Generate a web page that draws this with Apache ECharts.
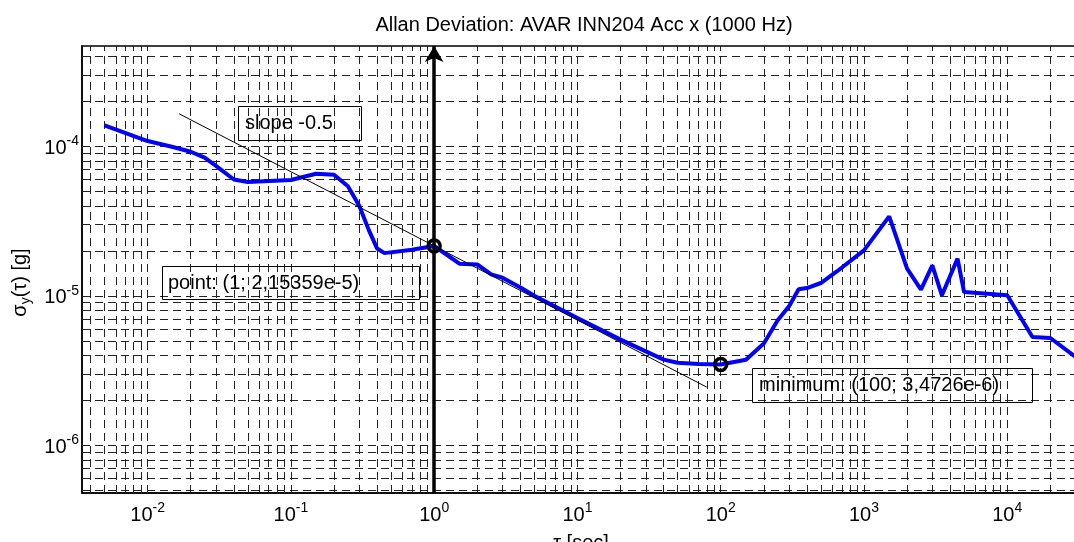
<!DOCTYPE html>
<html>
<head>
<meta charset="utf-8">
<title>Allan Deviation</title>
<style>
  html, body { margin: 0; padding: 0; background: #fff; }
  #main { width: 1074px; height: 542px; }
</style>
</head>
<body>
<div id="main"></div>
<script src="https://cdn.jsdelivr.net/npm/echarts@6/dist/echarts.min.js"></script>
<script>
// tau [sec] and allan deviation [g]
var tau = [0.005, 0.01, 0.015, 0.02, 0.025, 0.03, 0.04, 0.05, 0.1, 0.15, 0.2, 0.25, 0.3, 0.35, 0.4, 0.45, 0.7,
           1, 1.5, 2, 2.5, 3, 4, 5, 10, 20, 30, 40, 50, 70, 100,
           150, 200, 250, 300, 350, 400, 500, 650, 1000, 1500, 2000, 2500, 3000, 3500, 4500, 5000,
           10000, 15000, 20000, 30000];
var adev = [1.38e-4, 1.085e-4, 9.9e-5, 9.2e-5, 8.4e-5, 7.4e-5, 6.0e-5, 5.77e-5, 5.95e-5, 6.55e-5, 6.45e-5, 5.4e-5, 4.0e-5, 2.75e-5, 2.07e-5, 1.93e-5, 2.03e-5,
            2.15359e-5, 1.64e-5, 1.62e-5, 1.39e-5, 1.32e-5, 1.135e-5, 1.0e-5, 7.1e-6, 5.09e-6, 4.25e-6, 3.74e-6, 3.57e-6, 3.5e-6, 3.4726e-6,
            3.74e-6, 4.79e-6, 6.86e-6, 8.51e-6, 1.105e-5, 1.127e-5, 1.218e-5, 1.46e-5, 2.015e-5, 3.4e-5, 1.52e-5, 1.1e-5, 1.6e-5, 1.008e-5, 1.773e-5, 1.06e-5,
            1.008e-5, 5.3e-6, 5.22e-6, 3.9e-6];

// slope -0.5 reference line (end points)
var slopeTau = [0.0166, 80];
var slopeDev = [1.65e-4, 2.45e-6];

// marked points: point at tau=1 and the minimum
var markTau = [1, 100];
var markDev = [2.15359e-5, 3.4726e-6];

// log grid: decades and mantissas
var xDecades = [-3, -2, -1, 0, 1, 2, 3, 4];
var yDecades = [-7, -6, -5, -4];
var mantissas = [1, 2, 3, 4, 5, 6, 7, 8, 9];

var xMin = 0.0034834, xMax = 32211;
var yMin = 4.797e-7, yMax = 4.688e-4;

var FONT = '"Liberation Sans", Arial, sans-serif';

function gridValues(decades, lo, hi) {
  var out = [];
  decades.forEach(function (k) {
    mantissas.forEach(function (m) {
      var v = m * Math.pow(10, k);
      if (v > lo * 1.001 && v < hi / 1.001) out.push(v);
    });
  });
  return out;
}

var gridData = gridValues(xDecades, xMin, xMax).map(function (v) {
  return [{ coord: [v, yMin] }, { coord: [v, yMax] }];
}).concat(gridValues(yDecades, yMin, yMax).map(function (v) {
  return [{ coord: [xMin, v] }, { coord: [xMax, v] }];
}));

function powLabel(v) {
  var e = Math.round(Math.log10(v));
  return '{b|10}{e|' + e + '}';
}

var labelRich = {
  b: { fontSize: 20, lineHeight: 28, fontFamily: FONT, color: '#000' },
  e: { fontSize: 14, lineHeight: 14, verticalAlign: 'top', fontFamily: FONT, color: '#000' }
};

var curve = tau.map(function (t, i) { return [t, adev[i]]; });
var slope = slopeTau.map(function (t, i) { return [t, slopeDev[i]]; });
var marks = markTau.map(function (t, i) { return [t, markDev[i]]; });

var chart = echarts.init(document.getElementById('main'), null, { renderer: 'canvas' });

var option = {
  animation: false,
  backgroundColor: '#fff',
  title: {
    text: 'Allan Deviation: AVAR INN204 Acc x (1000 Hz)',
    left: 584,
    top: 15,
    padding: 0,
    textAlign: 'center',
    textStyle: { fontSize: 20, fontWeight: 'normal', color: '#000', fontFamily: FONT }
  },
  grid: {
    left: 82, top: 46, width: 998, height: 447,
    outerBoundsMode: 'none', containLabel: false,
    show: true, borderColor: '#000', borderWidth: 1.5, backgroundColor: 'transparent'
  },
  xAxis: {
    type: 'log', logBase: 10, min: xMin, max: xMax,
    name: 'τ [sec]', nameLocation: 'middle', nameGap: 40,
    nameTextStyle: { fontSize: 20, color: '#000', fontFamily: FONT },
    axisLine: { show: true, onZero: false, lineStyle: { color: '#000', width: 1.5 } },
    axisTick: { show: true, inside: true, length: 6, lineStyle: { color: '#000' } },
    splitLine: { show: false },
    axisLabel: {
      margin: 8, showMinLabel: false, showMaxLabel: false,
      formatter: powLabel, rich: labelRich
    }
  },
  yAxis: {
    type: 'log', logBase: 10, min: yMin, max: yMax,
    name: '{s|σ}{sub|y}{s|(τ) [g]}', nameLocation: 'middle', nameGap: 44,
    nameTextStyle: {
      color: '#000',
      padding: [0, 26, 0, 0],
      rich: {
        s: { fontSize: 20, lineHeight: 26, fontFamily: FONT, color: '#000' },
        sub: { fontSize: 14, lineHeight: 14, verticalAlign: 'bottom', fontFamily: FONT, color: '#000' }
      }
    },
    axisLine: { show: true, onZero: false, lineStyle: { color: '#000', width: 1.5 } },
    axisTick: { show: true, inside: true, length: 6, lineStyle: { color: '#000' } },
    splitLine: { show: false },
    axisLabel: {
      margin: 3, padding: [4, 0, 0, 0], showMinLabel: false, showMaxLabel: false,
      formatter: powLabel, rich: labelRich
    }
  },
  series: [
    {
      // thin slope line, also carries the dashed log grid
      type: 'line', data: slope, symbol: 'none', silent: true, z: 4,
      lineStyle: { color: '#000', width: 1 },
      markLine: {
        silent: true, symbol: 'none', z: 1, animation: false,
        label: { show: false },
        lineStyle: { color: '#222', width: 1, type: [8, 5] },
        emphasis: { disabled: true },
        data: gridData
      }
    },
    {
      type: 'line', data: curve, symbol: 'none', showSymbol: false, silent: true, z: 3,
      lineStyle: { color: '#0000ff', width: 4 }
    },
    {
      // circle markers (no connecting line) + arrow at tau = 1
      type: 'line', data: marks, showSymbol: true, symbol: 'circle', symbolSize: 12, silent: true, z: 5,
      lineStyle: { width: 0, opacity: 0 },
      itemStyle: { color: 'rgba(255,255,255,0)', borderColor: '#000', borderWidth: 3.5 },
      emphasis: { disabled: true },
      markLine: {
        silent: true, z: 6, animation: false,
        symbol: ['none', 'arrow'], symbolSize: [14, 16],
        label: { show: false },
        lineStyle: { color: '#000', width: 3.5, type: 'solid', opacity: 1 },
        emphasis: { disabled: true },
        data: [{ xAxis: markTau[0] }]
      }
    }
  ],
  graphic: [
    { type: 'rect', shape: { x: 238.5, y: 106.5, width: 123, height: 34 }, style: { fill: 'none', stroke: '#000', lineWidth: 1 }, z: 10 },
    { type: 'text', x: 245, y: 123, style: { text: 'slope -0.5', fontSize: 20, fontFamily: FONT, fill: '#000', verticalAlign: 'middle' }, z: 10 },
    { type: 'rect', shape: { x: 162.5, y: 266.5, width: 257, height: 33 }, style: { fill: 'none', stroke: '#000', lineWidth: 1 }, z: 10 },
    { type: 'text', x: 168, y: 283, style: { text: 'point: (1; 2,15359e-5)', fontSize: 20, fontFamily: FONT, fill: '#000', verticalAlign: 'middle' }, z: 10 },
    { type: 'rect', shape: { x: 752.5, y: 368.5, width: 280, height: 34 }, style: { fill: 'none', stroke: '#000', lineWidth: 1 }, z: 10 },
    { type: 'text', x: 759, y: 385, style: { text: 'minimum: (100; 3,4726e-6)', fontSize: 20, fontFamily: FONT, fill: '#000', verticalAlign: 'middle' }, z: 10 }
  ]
};

chart.setOption(option);
</script>
</body>
</html>
